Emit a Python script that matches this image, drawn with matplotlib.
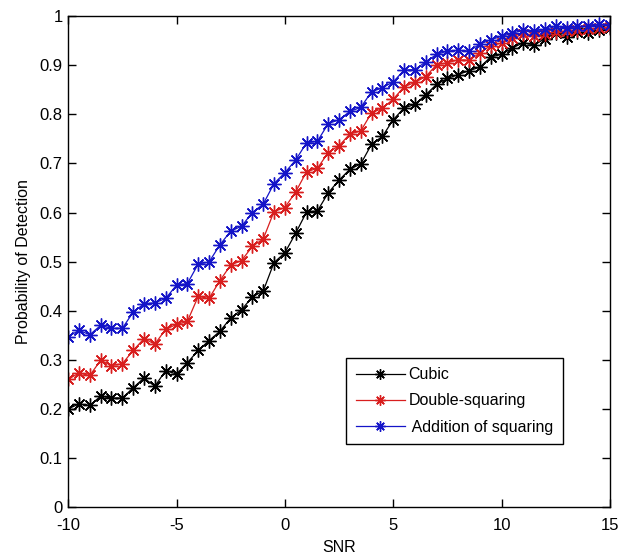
import matplotlib

matplotlib.use('Agg')
import matplotlib.pyplot as plt
import numpy as np

# --- data ---
snr = np.arange(-10, 15.01, 0.5)

cubic = [0.200, 0.210, 0.207, 0.226, 0.222, 0.222, 0.243, 0.263, 0.246, 0.278,
         0.271, 0.294, 0.319, 0.339, 0.358, 0.385, 0.402, 0.428, 0.440, 0.498,
         0.518, 0.558, 0.601, 0.603, 0.640, 0.666, 0.688, 0.699, 0.739, 0.755,
         0.789, 0.813, 0.820, 0.840, 0.861, 0.873, 0.881, 0.889, 0.896, 0.917,
         0.922, 0.935, 0.946, 0.941, 0.954, 0.965, 0.958, 0.967, 0.966, 0.971,
         0.975]

double_sq = [0.260, 0.273, 0.268, 0.299, 0.288, 0.292, 0.319, 0.343, 0.332, 0.362,
             0.372, 0.378, 0.429, 0.425, 0.461, 0.493, 0.502, 0.531, 0.546, 0.602,
             0.610, 0.642, 0.683, 0.690, 0.722, 0.736, 0.760, 0.766, 0.803, 0.812,
             0.831, 0.856, 0.865, 0.877, 0.901, 0.905, 0.911, 0.910, 0.925, 0.940,
             0.945, 0.955, 0.963, 0.959, 0.964, 0.968, 0.970, 0.971, 0.973, 0.975,
             0.978]

addition_sq = [0.347, 0.360, 0.351, 0.370, 0.364, 0.364, 0.397, 0.414, 0.416, 0.425,
               0.452, 0.455, 0.495, 0.499, 0.534, 0.562, 0.572, 0.600, 0.617, 0.659,
               0.681, 0.707, 0.742, 0.745, 0.781, 0.789, 0.806, 0.814, 0.846, 0.854,
               0.866, 0.890, 0.891, 0.907, 0.922, 0.929, 0.930, 0.929, 0.943, 0.952,
               0.959, 0.965, 0.972, 0.970, 0.973, 0.979, 0.976, 0.979, 0.979, 0.983,
               0.982]

labels = ['Cubic', 'Double-squaring', ' Addition of squaring']
colors = ['black', '#d81e1e', '#1414c8']

# --- plot ---
plt.rcParams['font.family'] = ['Liberation Sans', 'DejaVu Sans']
plt.rcParams['axes.unicode_minus'] = False

fig = plt.figure(figsize=(6.25, 5.56), dpi=100)
ax = fig.add_axes([0.109, 0.088, 0.867, 0.883])

# matlab style asterisk: plus + cross
asterisk = (8, 2, 0)
for ys, lab, col in zip([cubic, double_sq, addition_sq], labels, colors):
    ax.plot(snr, ys, color=col, marker=asterisk, markersize=10, linewidth=0.9,
            markeredgewidth=1.0, label=lab)

ax.set_xlim(-10, 15)
ax.set_ylim(0, 1)
ax.set_xticks([-10, -5, 0, 5, 10, 15])
ax.set_yticks(np.arange(0, 1.01, 0.1))
ax.set_yticklabels(['0', '0.1', '0.2', '0.3', '0.4', '0.5', '0.6', '0.7', '0.8', '0.9', '1'])
ax.tick_params(direction='in', top=True, right=True, length=6, labelsize=12, width=1)
ax.tick_params(axis='x', pad=8)
ax.tick_params(axis='y', pad=4)
for sp in ax.spines.values():
    sp.set_linewidth(1)

ax.set_xlabel('SNR', fontsize=11.5, labelpad=5)
ax.set_ylabel('Probability of Detection', fontsize=11.5, labelpad=6)

leg = ax.legend(loc='lower left', bbox_to_anchor=(0.513, 0.128), fontsize=11.5,
                fancybox=False, framealpha=1, edgecolor='black', borderaxespad=0,
                numpoints=1, handlelength=3.1, labelspacing=0.7, handletextpad=0.2,
                borderpad=0.6, markerscale=0.75)
leg.get_frame().set_linewidth(1)

fig.savefig('out.png', dpi=100)
